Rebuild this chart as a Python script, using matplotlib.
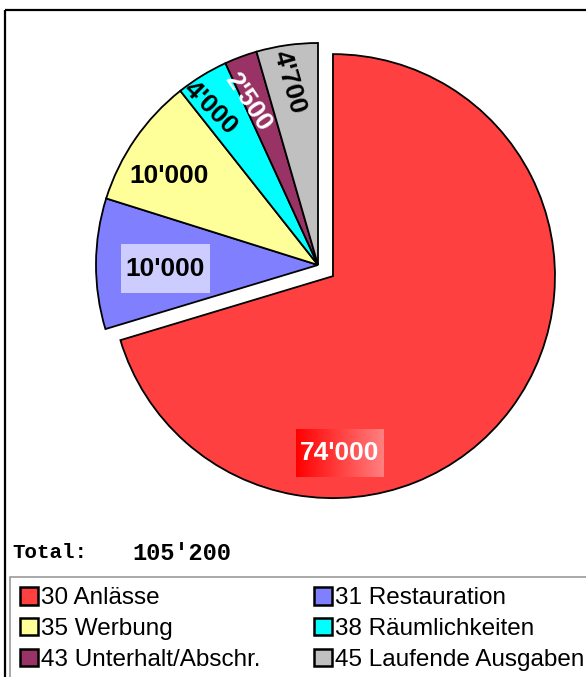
import numpy as np
import matplotlib
matplotlib.use("Agg")
import matplotlib.pyplot as plt
from matplotlib.patches import Rectangle, Patch

# Daten
kategorien = ["30 Anlässe", "31 Restauration", "35 Werbung",
              "38 Räumlichkeiten", "43 Unterhalt/Abschr.", "45 Laufende Ausgaben"]
betraege = [74000, 10000, 10000, 4000, 2500, 4700]
farben = ["#FF4040", "#8080FF", "#FFFF99", "#00FFFF", "#993366", "#C0C0C0"]
beschriftungen = ["74'000", "10'000", "10'000", "4'000", "2'500", "4'700"]
total_text = "105'200"

# Position der Beschriftungen (relativ zum Kreismittelpunkt, in Radien) und Drehung
label_xy = [(0.099, -0.847), (-0.687, -0.016), (-0.671, 0.401),
            (-0.486, 0.707), (-0.315, 0.734), (-0.131, 0.824)]
label_rot = [0, 0, 0, -45, -56, -74]
label_col = ["white", "black", "black", "black", "white", "black"]

W, H = 586, 677
fig = plt.figure(figsize=(W / 100, H / 100), dpi=100)

# Hintergrund / Rahmen in Pixelkoordinaten
bg = fig.add_axes([0, 0, 1, 1], zorder=0)
bg.set_xlim(0, W)
bg.set_ylim(H, 0)
bg.axis("off")
bg.add_patch(Rectangle((5, 10), 600, 700, fill=False, edgecolor="black", lw=1.6))

# Kreis
cx, cy, R = 318, 265, 222
ax = fig.add_axes([(cx - R) / W, (H - cy - R) / H, 2 * R / W, 2 * R / H], zorder=1)
explode = [0.084, 0, 0, 0, 0, 0]
wedges, _ = ax.pie(betraege, colors=farben, explode=explode, startangle=90,
                   counterclock=False, radius=1,
                   wedgeprops=dict(edgecolor="black", linewidth=1.3))
for w in wedges:
    w.set_clip_on(False)

for i, txt in enumerate(beschriftungen):
    x, y = label_xy[i]
    ax.text(x, y, txt, ha="center", va="center", fontsize=19, fontweight="bold",
            family="Liberation Sans", color=label_col[i], rotation=label_rot[i],
            rotation_mode="anchor", zorder=5)

# Hintergrund der Beschriftung 10'000 (blau)
bw, bh = 0.40, 0.22
bx, by = label_xy[1]
ax.add_patch(Rectangle((bx - bw / 2, by - bh / 2), bw, bh, facecolor="#CCCCFF",
                       edgecolor="none", zorder=4))

# Farbverlauf hinter 74'000
x0, y0 = label_xy[0]
grad = np.linspace(0, 1, 256).reshape(1, -1)
cmap = matplotlib.colors.LinearSegmentedColormap.from_list("rot", ["#FF0000", "#FF8080"])
ax.imshow(grad, cmap=cmap, aspect="auto", zorder=4,
          extent=(x0 - 0.198, x0 + 0.198, y0 - 0.108, y0 + 0.108))
ax.set_xlim(-1, 1)
ax.set_ylim(-1, 1)
ax.set_aspect("equal")
ax.axis("off")

# Total
bg.text(12, 552, "Total:", fontsize=15, fontweight="bold", family="Liberation Mono",
        ha="left", va="center")
bg.text(132, 554, total_text, fontsize=17, fontweight="bold", family="Liberation Mono",
        ha="left", va="center")

# Legende (zeilenweise wie im Original)
reihenfolge = [0, 2, 4, 1, 3, 5]
handles = [Patch(facecolor=farben[i], edgecolor="black", linewidth=1.8) for i in reihenfolge]
labels = [kategorien[i] for i in reihenfolge]
leg = fig.legend(handles, labels, ncol=2, loc="upper left",
                 bbox_to_anchor=(10 / W, 1 - 577 / H), borderaxespad=0,
                 prop=dict(family="Liberation Sans", size=17.5),
                 handlelength=0.72, handleheight=0.72, handletextpad=0.15,
                 columnspacing=2.2, labelspacing=0.36, borderpad=0.42,
                 fancybox=False, frameon=True)
leg.get_frame().set_edgecolor("#808080")
leg.get_frame().set_linewidth(1.2)

fig.savefig("out.png", dpi=100)
